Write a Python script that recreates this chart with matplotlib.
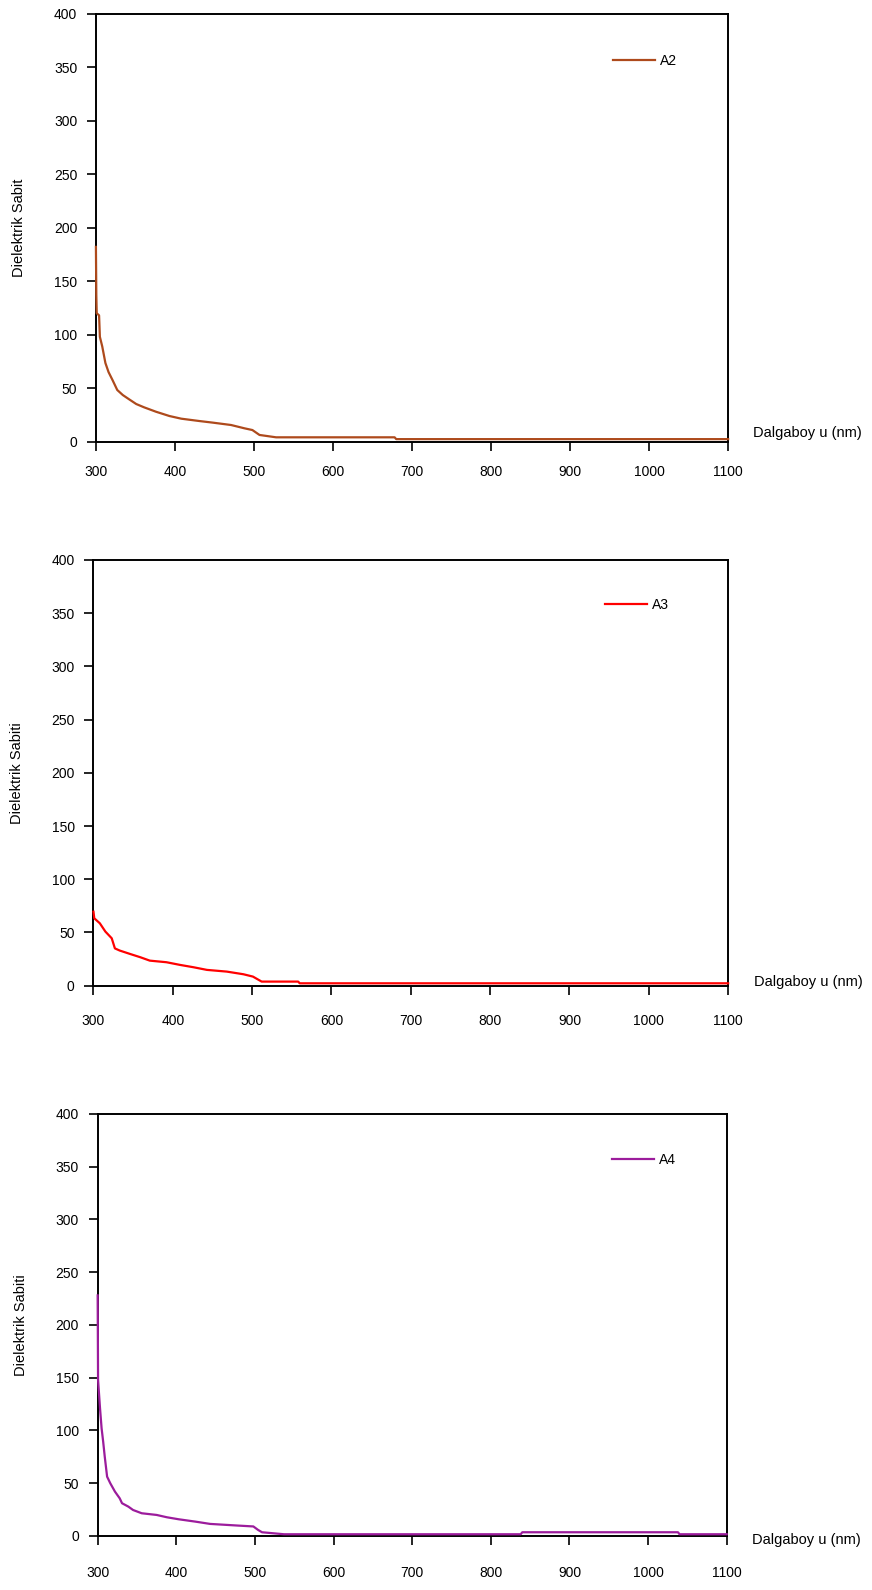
import matplotlib
matplotlib.use("Agg")
import matplotlib.pyplot as plt

plt.rcParams['font.family'] = ['Liberation Sans', 'DejaVu Sans']

# A2 sample: wavelength (nm) and dielectric constant
a2_wl = [300, 300.5, 301, 304, 305, 308, 312, 316, 321, 327, 334, 342, 351, 361,
         376, 393, 408, 431, 448, 471, 488, 498, 507, 528, 678, 680, 1100]
a2_eps = [182, 137, 120, 118, 98, 89, 73.5, 65, 57.6, 48.3, 43.6, 39.6, 35.2, 32.1,
          28, 24, 21.5, 19.3, 17.8, 15.6, 12.5, 10.9, 6.3, 4.1, 4.1, 2.4, 2.4]

# A3 sample
a3_wl = [300, 301, 308, 315, 323, 327, 333, 346, 359, 371, 392, 409, 426, 443,
         468, 489, 501, 512, 558, 560, 1100]
a3_eps = [69.5, 63.3, 58.6, 50.8, 44.5, 35, 33, 29.8, 26.7, 23.5, 22, 19.5, 17.3,
          14.8, 13.2, 10.7, 8.5, 3.8, 3.8, 2.2, 2.2]

# A4 sample
a4_wl = [300, 300.5, 303, 305, 307, 309, 312, 316, 322, 328, 331, 339, 345, 356,
         375, 388, 403, 424, 443, 479, 498, 504, 509, 537, 838, 840, 1038, 1040, 1100]
a4_eps = [228, 148, 121, 102, 89.4, 75.2, 56.2, 50, 42, 35.7, 31, 27.8, 24.6, 21.5,
          19.9, 17.7, 15.8, 13.6, 11.4, 9.8, 9.0, 5.7, 3.5, 1.6, 1.6, 3.5, 3.5, 1.6, 1.6]

x_ticks = [300, 400, 500, 600, 700, 800, 900, 1000, 1100]
y_ticks = [0, 50, 100, 150, 200, 250, 300, 350, 400]
x_label = "Dalgaboy u (nm)"

panels = [
    dict(wl=a2_wl, eps=a2_eps, name="A2", color="#AE4A1C",
         ylabel="Dielektrik Sabit", rect=[0.110, 0.7222, 0.725, 0.2693],
         leg=(0.818, 0.889), xpad=10, xlab_y=0.020),
    dict(wl=a3_wl, eps=a3_eps, name="A3", color="#FF0000",
         ylabel="Dielektrik Sabiti", rect=[0.1072, 0.3801, 0.7278, 0.2677],
         leg=(0.806, 0.894), xpad=14, xlab_y=0.009),
    dict(wl=a4_wl, eps=a4_eps, name="A4", color="#9C1C9C",
         ylabel="Dielektrik Sabiti", rect=[0.112, 0.0340, 0.7214, 0.2654],
         leg=(0.818, 0.891), xpad=15, xlab_y=-0.009),
]

fig = plt.figure(figsize=(8.72, 15.90), dpi=100)

for p in panels:
    ax = fig.add_axes(p["rect"])
    line, = ax.plot(p["wl"], p["eps"], color=p["color"], lw=1.6, label=p["name"])
    line.set_clip_on(False)
    line.set_zorder(3)
    ax.set_xlim(300, 1100)
    ax.set_ylim(0, 400)
    ax.set_xticks(x_ticks)
    ax.set_yticks(y_ticks)
    for s in ax.spines.values():
        s.set_linewidth(1.4)
        s.set_color("black")
        s.set_zorder(2)
    ax.tick_params(axis="both", direction="out", length=6.5, width=1.2,
                   labelsize=10, colors="black")
    ax.tick_params(axis="y", pad=7)
    ax.tick_params(axis="x", pad=p["xpad"])
    ax.set_ylabel(p["ylabel"], fontsize=10.5, labelpad=20)
    ax.text(1.04, p["xlab_y"], x_label, transform=ax.transAxes,
            fontsize=10.5, ha="left", va="center")
    ax.legend(loc="center left", bbox_to_anchor=p["leg"], frameon=False,
              fontsize=10, handlelength=3.0, handletextpad=0.4,
              borderpad=0, borderaxespad=0)

fig.savefig("out.png", dpi=100, facecolor="white")
